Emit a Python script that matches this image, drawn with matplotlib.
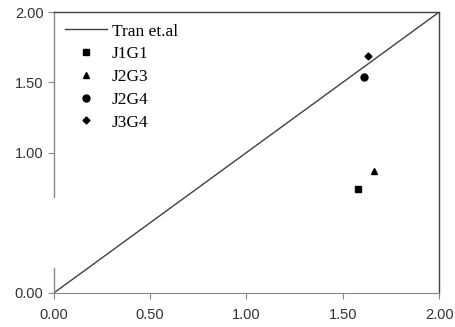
import numpy as np
import matplotlib
matplotlib.use("Agg")
import matplotlib.pyplot as plt

plt.close("all")

# reference line and measured points
line_x = [0.0, 2.0]
line_y = [0.0, 2.0]
labels = ["J1G1", "J2G3", "J2G4", "J3G4"]
markers = ["s", "^", "o", "D"]
sizes = [4.3, 4.3, 5.0, 3.5]
pts_x = [1.58, 1.66, 1.61, 1.63]
pts_y = [0.74, 0.87, 1.54, 1.69]
xticks = [0.0, 0.5, 1.0, 1.5, 2.0]
yticks = [0.0, 1.0, 1.5, 2.0]

fig = plt.figure(figsize=(4.56, 3.27), dpi=100)
ax = fig.add_axes([0.118, 0.104, 0.845, 0.859])

ax.plot(line_x, line_y, color="#404040", lw=1.0, label="Tran et.al")
for lab, m, s, x, y in zip(labels, markers, sizes, pts_x, pts_y):
    ax.plot([x], [y], ls="none", marker=m, ms=s, color="black", label=lab)

ax.set_xlim(0, 2)
ax.set_ylim(0, 2)
ax.set_xticks(xticks)
ax.set_yticks(yticks)
ax.set_xticklabels([f"{v:.2f}" for v in xticks])
ax.set_yticklabels([f"{v:.2f}" for v in yticks])

for side in ["top", "right"]:
    ax.spines[side].set_color("#444444")
    ax.spines[side].set_linewidth(1.0)
ax.spines["bottom"].set_color("#888888")
ax.spines["left"].set_visible(False)
# broken left axis line, as in the original
ax.plot([0, 0], [0, 0.18], color="#888888", lw=1.0, clip_on=False)
ax.plot([0, 0], [0.68, 2.0], color="#888888", lw=1.0, clip_on=False)

ax.tick_params(direction="out", length=4, color="#888888", labelsize=10.5,
               labelcolor="#333333")
ax.tick_params(axis="x", pad=7)
for t in ax.get_xticklabels() + ax.get_yticklabels():
    t.set_family("Liberation Sans")

leg = ax.legend(loc="upper left", frameon=False, prop={"family": "Liberation Serif", "size": 12.5},
                handlelength=2.4, handletextpad=0.3, labelspacing=0.38,
                borderaxespad=0.25, borderpad=0.4)

fig.savefig("out.png", dpi=100)
